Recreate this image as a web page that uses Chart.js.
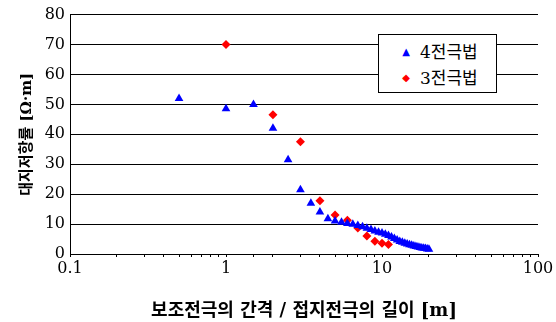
<!DOCTYPE html>
<html>
<head>
<meta charset="utf-8">
<script src="https://cdn.jsdelivr.net/npm/chart.js@4/dist/chart.umd.min.js"></script>
<style>
  body { margin: 0; background: #fff; }
  #wrap { position: relative; width: 556px; height: 322px; }
  #legend {
    position: absolute; left: 378px; top: 34px; width: 117px; height: 57px;
    border: 1px solid #000; background: #fff;
    font-family: "DejaVu Serif", "Noto Sans CJK KR", serif; font-size: 17px;
  }
  #legend .t { position: absolute; left: 41px; white-space: nowrap; line-height: 20px; }
  #legend .m { position: absolute; left: 20px; width: 14px; text-align: center; font-size: 10px; line-height: 20px; }
</style>
</head>
<body>
<div id="wrap">
  <canvas id="c" width="556" height="322"></canvas>
  <div id="legend">
    <span class="m" style="top:7px;color:#0000ff">&#9650;</span><span class="t" style="top:7px">4전극법</span>
    <span class="m" style="top:33px;color:#ff0000">&#9670;</span><span class="t" style="top:33px">3전극법</span>
  </div>
</div>
<script>
// 4전극법 (blue triangles)
const fourX = [0.5, 1, 1.5, 2, 2.5, 3, 3.5, 4, 4.5, 5, 5.5, 6, 6.5, 7, 7.5, 8, 8.5, 9, 9.5,
  10, 10.5, 11, 11.5, 12, 12.5, 13, 13.5, 14, 14.5, 15, 15.5, 16, 16.5, 17, 17.5, 18, 18.5, 19, 19.5, 20];
const fourY = [52, 48.5, 50, 42, 31.5, 21.5, 17, 14, 11.8, 11, 10.6, 10.2, 9.9, 9.5, 9.1, 8.6, 8.2, 7.7, 7.3,
  7, 6.6, 6.2, 5.7, 5.2, 4.7, 4.2, 3.9, 3.6, 3.3, 3.1, 2.9, 2.7, 2.5, 2.3, 2.2, 2, 1.9, 1.8, 1.7, 1.6];
// 3전극법 (red diamonds)
const threeX = [1, 2, 3, 4, 5, 6, 7, 8, 9, 10, 11];
const threeY = [70, 46.5, 37.5, 17.8, 13, 11.3, 8.7, 6, 4.3, 3.6, 3.2];

const xTicks = [0.1, 1, 10, 100];
const yTicks = [0, 10, 20, 30, 40, 50, 60, 70, 80];

const fam = '"DejaVu Serif", "Noto Sans CJK KR", serif';

new Chart(document.getElementById('c'), {
  type: 'scatter',
  data: {
    datasets: [
      {
        label: '4전극법',
        data: fourX.map((x, i) => ({ x, y: fourY[i] })),
        pointStyle: 'triangle',
        pointRadius: 5,
        backgroundColor: '#0000ff',
        borderColor: '#0000ff',
        borderWidth: 0
      },
      {
        label: '3전극법',
        data: threeX.map((x, i) => ({ x, y: threeY[i] })),
        pointStyle: 'rectRot',
        pointRadius: 4.5,
        backgroundColor: '#ff0000',
        borderColor: '#ff0000',
        borderWidth: 0
      }
    ]
  },
  options: {
    responsive: false,
    animation: false,
    layout: { padding: { top: 14, right: 18, left: 4, bottom: 0 } },
    plugins: { legend: { display: false }, tooltip: { enabled: false } },
    scales: {
      x: {
        type: 'logarithmic',
        min: 0.1,
        max: 100,
        afterFit: s => { s.height = 68; },
        border: { color: '#000', width: 1 },
        grid: { drawOnChartArea: false, color: '#000', tickLength: 3 },
        ticks: {
          autoSkip: false,
          maxRotation: 0,
          color: '#000',
          font: { family: fam, size: 16 },
          padding: 2,
          callback: v => xTicks.includes(v) ? String(v) : ''
        },
        title: {
          display: true,
          text: '보조전극의 간격 / 접지전극의 길이 [m]',
          color: '#000',
          font: { family: fam, size: 18, weight: 'bold' },
          padding: { top: 18, bottom: 0 }
        }
      },
      y: {
        min: 0,
        max: 80,
        afterFit: s => { s.width = 66; },
        afterBuildTicks: s => { s.ticks = yTicks.map(v => ({ value: v })); },
        border: { color: '#000', width: 1 },
        grid: { color: '#000', lineWidth: 1, drawTicks: false },
        ticks: {
          color: '#000',
          font: { family: fam, size: 16 },
          padding: 5
        },
        title: {
          display: true,
          text: '대지저항률 [Ω·m]',
          color: '#000',
          font: { family: fam, size: 15, weight: 'bold' },
          padding: { top: 14, bottom: 0 }
        }
      }
    }
  }
});
</script>
</body>
</html>
